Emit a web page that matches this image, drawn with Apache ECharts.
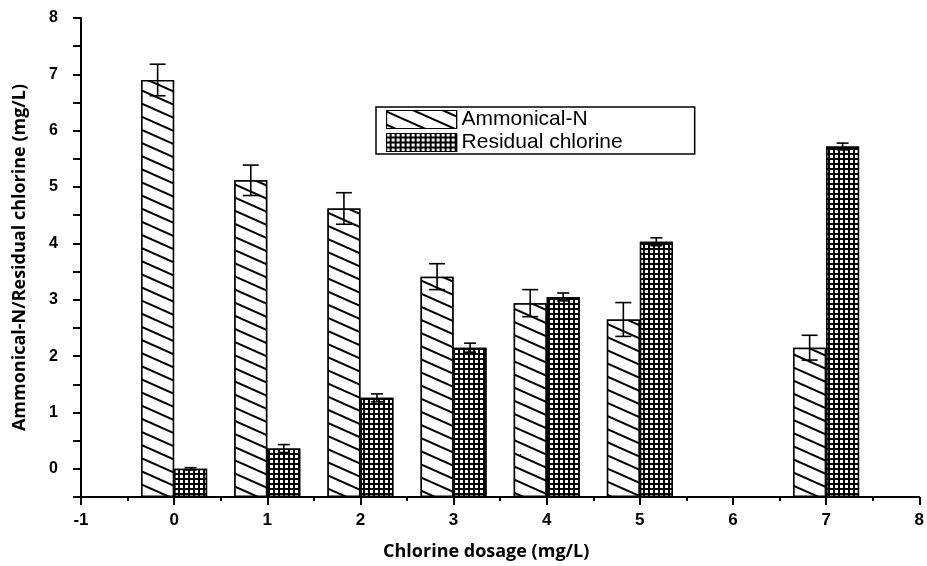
<!DOCTYPE html>
<html>
<head>
<meta charset="utf-8">
<script src="https://cdn.jsdelivr.net/npm/echarts@6/dist/echarts.min.js"></script>
<style>
html,body{margin:0;padding:0;background:#fff;}
#chart{width:927px;height:566px;}
</style>
</head>
<body>
<div id="chart"></div>
<script>
const dosage = [0, 1, 2, 3, 4, 5, 7];
const ammonicalN = [6.90, 5.12, 4.62, 3.41, 2.94, 2.65, 2.15];
const ammonicalErr = [0.28, 0.27, 0.28, 0.23, 0.24, 0.30, 0.22];
const residualCl = [0.00, 0.36, 1.26, 2.15, 3.05, 4.03, 5.72];
const residualErr = [0.02, 0.07, 0.07, 0.08, 0.07, 0.07, 0.06];
const xTicks = [-1, 0, 1, 2, 3, 4, 5, 6, 7, 8];
const yTicks = [0, 1, 2, 3, 4, 5, 6, 7, 8];
const seriesNames = ['Ammonical-N', 'Residual chlorine'];
const xName = 'Chlorine dosage (mg/L)';
const yName = 'Ammonical-N/Residual chlorine (mg/L)';

const BAR_W = 33;

const chart = echarts.init(document.getElementById('chart'), null, {renderer: 'canvas'});

function errRender(side, capW) {
  return function (params, api) {
    const x = api.value(0), y = api.value(1), e = api.value(2);
    const pTop = api.coord([x, y + e]);
    const pBot = api.coord([x, y - e]);
    const cx = pTop[0] + side * BAR_W / 2;
    const st = {stroke: '#000', lineWidth: 1.6};
    return {
      type: 'group',
      children: [
        {type: 'line', shape: {x1: cx, y1: pTop[1], x2: cx, y2: pBot[1]}, style: st},
        {type: 'line', shape: {x1: cx - capW / 2, y1: pTop[1], x2: cx + capW / 2, y2: pTop[1]}, style: st},
        {type: 'line', shape: {x1: cx - capW / 2, y1: pBot[1], x2: cx + capW / 2, y2: pBot[1]}, style: st}
      ]
    };
  };
}

const hatchDecal = {
  symbol: 'rect',
  symbolSize: 1,
  color: '#000',
  backgroundColor: '#fff',
  dashArrayX: [1, 0],
  dashArrayY: [1.6, 9.4],
  rotation: 24 * Math.PI / 180
};
const gridDecal = {
  symbol: 'rect',
  symbolSize: 1,
  color: '#fff',
  backgroundColor: '#000',
  dashArrayX: [3, 1.3],
  dashArrayY: [2.8, 1.3],
  rotation: 0
};

const tickFont = 'Liberation Sans, Arial, sans-serif';

const option = {
  backgroundColor: '#fff',
  animation: false,
  aria: {enabled: true, decal: {show: true}},
  grid: {left: 81, right: 7, top: 18, bottom: 69, containLabel: false},
  legend: {
    left: 376, top: 107,
    orient: 'vertical',
    icon: 'rect',
    itemWidth: 70, itemHeight: 18, itemGap: 2,
    padding: [2, 72, 1, 10],
    borderColor: '#000', borderWidth: 1.5,
    data: seriesNames,
    textStyle: {color: '#000', fontSize: 21, fontFamily: tickFont},
    itemStyle: {borderColor: '#000', borderWidth: 1.2}
  },
  xAxis: {
    type: 'value', min: -1, max: 8, interval: 1,
    name: xName, nameLocation: 'middle', nameGap: 46,
    nameTextStyle: {color: '#000', fontSize: 18, fontWeight: 'bold', fontFamily: 'Open Sans, sans-serif', padding: [0, 28, 0, 0]},
    axisLine: {onZero: false, lineStyle: {color: '#000', width: 2}},
    axisTick: {show: true, inside: false, length: 8, lineStyle: {color: '#000', width: 2}},
    minorTick: {show: true, splitNumber: 2, length: 4, lineStyle: {color: '#000', width: 2}},
    axisLabel: {fontSize: 17, margin: 15, color: '#000', fontWeight: 'bold', fontFamily: tickFont},
    splitLine: {show: false}
  },
  yAxis: {
    type: 'value', min: -0.5, max: 8, interval: 0.5, startValue: -0.5, position: 'left',
    name: yName, nameLocation: 'middle', nameGap: 52,
    nameTextStyle: {color: '#000', fontSize: 18, fontWeight: 'bold', fontFamily: 'Open Sans, sans-serif'},
    axisLine: {onZero: false, lineStyle: {color: '#000', width: 2}},
    axisTick: {show: true, inside: false, length: 8, lineStyle: {color: '#000', width: 2}},
    axisLabel: {fontSize: 16, margin: 23, customValues: yTicks, color: '#000', fontWeight: 'bold', fontFamily: tickFont},
    splitLine: {show: false}
  },
  series: [
    {
      name: seriesNames[0], type: 'bar',
      barWidth: BAR_W, barGap: '0%',
      data: dosage.map((d, i) => [d, ammonicalN[i]]),
      itemStyle: {color: '#fff', borderColor: '#000', borderWidth: 1.5, decal: hatchDecal}
    },
    {
      name: seriesNames[1], type: 'bar',
      barWidth: BAR_W, barGap: '0%',
      data: dosage.map((d, i) => [d, residualCl[i]]),
      itemStyle: {color: '#000', borderColor: '#000', borderWidth: 1.5, decal: gridDecal}
    },
    {
      type: 'custom', z: 5,
      renderItem: errRender(-1, 16),
      data: dosage.map((d, i) => [d, ammonicalN[i], ammonicalErr[i]])
    },
    {
      type: 'custom', z: 5,
      renderItem: errRender(1, 12),
      data: dosage.map((d, i) => [d, residualCl[i], residualErr[i]])
    }
  ]
};
chart.setOption(option);
</script>
</body>
</html>
